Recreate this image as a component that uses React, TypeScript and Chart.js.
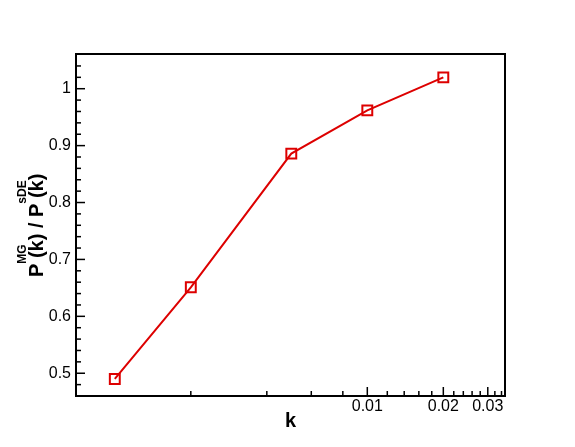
import React, { useEffect, useRef } from "react";
import { Chart, registerables } from "chart.js";

Chart.register(...registerables);

// ---- data ----
const kValues = [0.001, 0.002, 0.005, 0.01, 0.02];
const ratioValues = [0.49, 0.651, 0.886, 0.962, 1.02];

// ---- axis ticks ----
const xTickLabels = [0.01, 0.02, 0.03];
const xMinorTicks = [
  0.002, 0.004, 0.006, 0.008, 0.012, 0.014, 0.016, 0.018, 0.022, 0.024,
  0.026, 0.028, 0.032, 0.034,
];
const yTickLabels = [0.5, 0.6, 0.7, 0.8, 0.9, 1];
const yMinorTicks = [
  0.48, 0.52, 0.54, 0.56, 0.58, 0.62, 0.64, 0.66, 0.68, 0.72, 0.74, 0.76,
  0.78, 0.82, 0.84, 0.86, 0.88, 0.92, 0.94, 0.96, 0.98, 1.02, 1.04,
];

const X_MIN = 0.000702;
const X_MAX = 0.0351;
const Y_MIN = 0.46;
const Y_MAX = 1.061;

const FONT = "'Liberation Sans', Arial, Helvetica, sans-serif";
const RED = "#dd0000";

const framePlugin = {
  id: "framePlugin",
  afterDraw(chart: any) {
    const { ctx, chartArea, scales } = chart;
    const { left, right, top, bottom } = chartArea;
    const x = scales.x;
    const y = scales.y;
    ctx.save();
    ctx.strokeStyle = "#000";
    ctx.lineWidth = 1.5;
    const seg = (x1: number, y1: number, x2: number, y2: number) => {
      ctx.beginPath();
      ctx.moveTo(x1, y1);
      ctx.lineTo(x2, y2);
      ctx.stroke();
    };
    xTickLabels.forEach((v) => {
      const px = x.getPixelForValue(v);
      seg(px, bottom, px, bottom - 9);
    });
    xMinorTicks.forEach((v) => {
      const px = x.getPixelForValue(v);
      seg(px, bottom, px, bottom - 5);
    });
    yTickLabels.forEach((v) => {
      const py = y.getPixelForValue(v);
      seg(left, py, left + 9, py);
    });
    yMinorTicks.forEach((v) => {
      const py = y.getPixelForValue(v);
      seg(left, py, left + 5, py);
    });
    ctx.lineWidth = 2;
    ctx.strokeRect(left, top, right - left, bottom - top);

    // y-axis title with superscripts
    const mainFont = `bold 20px ${FONT}`;
    const supFont = `bold 12px ${FONT}`;
    ctx.fillStyle = "#000";
    ctx.textBaseline = "alphabetic";
    ctx.textAlign = "left";
    ctx.translate(42.5, 277);
    ctx.rotate(-Math.PI / 2);
    let pen = 0;
    const main = (t: string) => {
      ctx.font = mainFont;
      ctx.fillText(t, pen, 0);
      pen += ctx.measureText(t).width;
    };
    const sup = (t: string) => {
      ctx.font = supFont;
      ctx.fillText(t, pen, -17);
    };
    main("P");
    sup("MG");
    main(" (k)");
    main(" / ");
    main("P");
    sup("sDE");
    main(" (k)");
    ctx.restore();
  },
};

export default function App() {
  const canvasRef = useRef<HTMLCanvasElement | null>(null);

  useEffect(() => {
    const canvas = canvasRef.current;
    if (!canvas) return;
    const chart = new Chart(canvas, {
      type: "line",
      data: {
        datasets: [
          {
            data: kValues.map((k, i) => ({ x: k, y: ratioValues[i] })),
            borderColor: RED,
            borderWidth: 2,
            pointStyle: "rect",
            pointRadius: 7,
            pointBorderWidth: 2,
            pointBorderColor: RED,
            pointBackgroundColor: "rgba(0,0,0,0)",
            tension: 0,
            fill: false,
          },
        ],
      },
      options: {
        animation: false,
        responsive: false,
        devicePixelRatio: 1,
        layout: { padding: { top: 54, right: 70, left: 0, bottom: 0 } },
        plugins: {
          legend: { display: false },
          tooltip: { enabled: false },
        },
        scales: {
          x: {
            type: "logarithmic",
            min: X_MIN,
            max: X_MAX,
            grid: { display: false, drawTicks: false },
            border: { display: false },
            afterBuildTicks: (scale: any) => {
              scale.ticks = xTickLabels.map((v) => ({ value: v }));
            },
            afterFit: (scale: any) => {
              scale.height = 51;
            },
            ticks: {
              autoSkip: false,
              maxRotation: 0,
              minRotation: 0,
              padding: 1,
              color: "#000",
              font: { family: FONT, size: 16 },
              callback: (v: any) => String(v),
            },
            title: {
              display: true,
              text: "k",
              color: "#000",
              font: { family: FONT, size: 20, weight: "bold" },
              padding: { top: 0, bottom: 14 },
            },
          },
          y: {
            type: "linear",
            min: Y_MIN,
            max: Y_MAX,
            grid: { display: false, drawTicks: false },
            border: { display: false },
            afterBuildTicks: (scale: any) => {
              scale.ticks = yTickLabels.map((v) => ({ value: v }));
            },
            afterFit: (scale: any) => {
              scale.width = 76;
            },
            ticks: {
              autoSkip: false,
              padding: 5,
              color: "#000",
              font: { family: FONT, size: 16 },
              callback: (v: any) => String(v),
            },
          },
        },
      },
      plugins: [framePlugin],
    } as any);
    return () => chart.destroy();
  }, []);

  return (
    <div
      style={{
        position: "absolute",
        left: 0,
        top: 0,
        width: 575,
        height: 447,
        background: "#fff",
      }}
    >
      <canvas ref={canvasRef} width={575} height={447} />
    </div>
  );
}
